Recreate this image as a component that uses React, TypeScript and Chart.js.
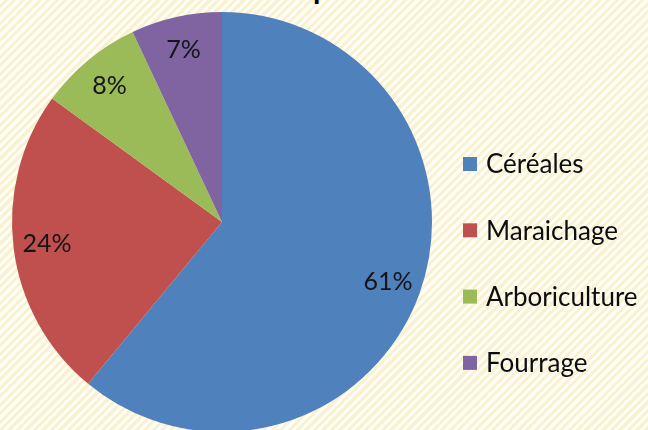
import React, { useEffect, useRef } from "react";
import { Chart, registerables } from "chart.js";

Chart.register(...registerables);

const categories = ["Céréales", "Maraichage", "Arboriculture", "Fourrage"];
const shares = [61, 24, 8, 7];
const colors = ["#4F81BD", "#C0504D", "#9BBB59", "#8064A2"];

const FONT = "Lato, 'Open Sans', sans-serif";

const sliceLabels = {
  id: "sliceLabels",
  afterDatasetsDraw(chart: any) {
    const ctx = chart.ctx;
    const meta = chart.getDatasetMeta(0);
    ctx.save();
    ctx.font = `25px ${FONT}`;
    ctx.fillStyle = "#151515";
    ctx.textAlign = "center";
    ctx.textBaseline = "middle";
    meta.data.forEach((arc: any, i: number) => {
      const p = arc.getProps(["x", "y", "startAngle", "endAngle", "outerRadius"], true);
      const mid = (p.startAngle + p.endAngle) / 2;
      const r = p.outerRadius * 0.84;
      ctx.fillText(shares[i] + "%", p.x + Math.cos(mid) * r, p.y + Math.sin(mid) * r);
    });
    ctx.restore();
  },
};

const sideLegend = {
  id: "sideLegend",
  afterDraw(chart: any) {
    const ctx = chart.ctx;
    ctx.save();
    ctx.font = `26px ${FONT}`;
    ctx.textAlign = "left";
    ctx.textBaseline = "middle";
    categories.forEach((name, i) => {
      const cy = 164 + i * 66.3;
      ctx.fillStyle = colors[i];
      ctx.fillRect(463, cy - 7, 14, 14);
      ctx.fillStyle = "#0d0d0d";
      ctx.fillText(name, 486, cy + 1);
    });
    ctx.restore();
  },
};

export default function App() {
  const ref = useRef<HTMLCanvasElement>(null);
  useEffect(() => {
    if (!ref.current) return;
    const chart = new Chart(ref.current, {
      type: "pie",
      data: {
        labels: categories,
        datasets: [
          {
            data: shares,
            backgroundColor: colors,
            borderWidth: 0,
          },
        ],
      },
      options: {
        responsive: false,
        animation: false,
        layout: { padding: { left: 12, top: 12, bottom: 12, right: 216 } },
        plugins: {
          legend: { display: false },
          tooltip: { enabled: false },
        },
      },
      plugins: [sliceLabels, sideLegend],
    });
    return () => chart.destroy();
  }, []);

  return (
    <div
      style={{
        position: "fixed",
        left: 0,
        top: 0,
        width: 648,
        height: 430,
        overflow: "hidden",
        background:
          "repeating-linear-gradient(135deg, #FFFDF4 0px, #FFFDF4 3px, #F8F1D2 3px, #F8F1D2 6px)",
      }}
    >
      <span
        style={{
          position: "absolute",
          left: 313,
          top: -30,
          font: `bold 30px ${FONT}`,
          color: "#000",
          lineHeight: "34px",
        }}
      >
        p
      </span>
      <canvas
        ref={ref}
        width={648}
        height={444}
        style={{ position: "absolute", left: 0, top: 0, width: 648, height: 444 }}
      />
    </div>
  );
}
